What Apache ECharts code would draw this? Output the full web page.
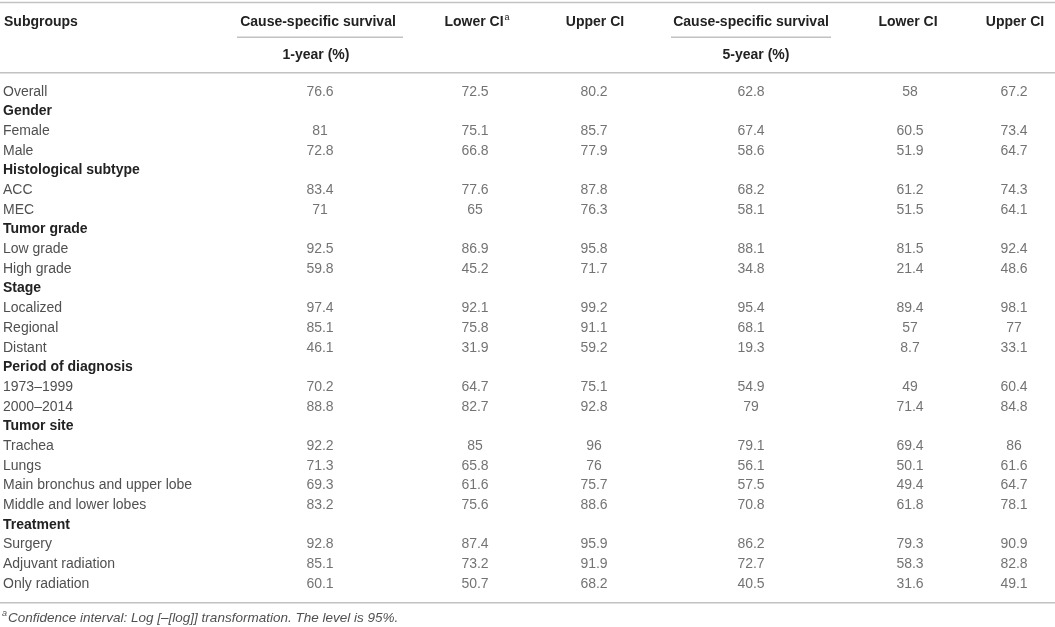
<!DOCTYPE html>
<html>
<head>
<meta charset="utf-8">
<script src="https://cdn.jsdelivr.net/npm/echarts@6/dist/echarts.min.js"></script>
<style>
html,body{margin:0;padding:0;background:#fff;}
#chart{width:1055px;height:627px;}
</style>
</head>
<body>
<div id="chart"></div>
<script>
// ---- Data ----
const subgroups = [
  'Overall',
  'Gender', 'Female', 'Male',
  'Histological subtype', 'ACC', 'MEC',
  'Tumor grade', 'Low grade', 'High grade',
  'Stage', 'Localized', 'Regional', 'Distant',
  'Period of diagnosis', '1973–1999', '2000–2014',
  'Tumor site', 'Trachea', 'Lungs', 'Main bronchus and upper lobe', 'Middle and lower lobes',
  'Treatment', 'Surgery', 'Adjuvant radiation', 'Only radiation'
];
const groupHeaders = ['Gender', 'Histological subtype', 'Tumor grade', 'Stage', 'Period of diagnosis', 'Tumor site', 'Treatment'];

const survival1y = [76.6, null, 81, 72.8, null, 83.4, 71, null, 92.5, 59.8, null, 97.4, 85.1, 46.1, null, 70.2, 88.8, null, 92.2, 71.3, 69.3, 83.2, null, 92.8, 85.1, 60.1];
const lower1y    = [72.5, null, 75.1, 66.8, null, 77.6, 65, null, 86.9, 45.2, null, 92.1, 75.8, 31.9, null, 64.7, 82.7, null, 85, 65.8, 61.6, 75.6, null, 87.4, 73.2, 50.7];
const upper1y    = [80.2, null, 85.7, 77.9, null, 87.8, 76.3, null, 95.8, 71.7, null, 99.2, 91.1, 59.2, null, 75.1, 92.8, null, 96, 76, 75.7, 88.6, null, 95.9, 91.9, 68.2];
const survival5y = [62.8, null, 67.4, 58.6, null, 68.2, 58.1, null, 88.1, 34.8, null, 95.4, 68.1, 19.3, null, 54.9, 79, null, 79.1, 56.1, 57.5, 70.8, null, 86.2, 72.7, 40.5];
const lower5y    = [58, null, 60.5, 51.9, null, 61.2, 51.5, null, 81.5, 21.4, null, 89.4, 57, 8.7, null, 49, 71.4, null, 69.4, 50.1, 49.4, 61.8, null, 79.3, 58.3, 31.6];
const upper5y    = [67.2, null, 73.4, 64.7, null, 74.3, 64.1, null, 92.4, 48.6, null, 98.1, 77, 33.1, null, 60.4, 84.8, null, 86, 61.6, 64.7, 78.1, null, 90.9, 82.8, 49.1];

const columnTitles = ['Cause-specific survival', 'Lower CI', 'Upper CI', 'Cause-specific survival', 'Lower CI', 'Upper CI'];
const periodTitles = ['1-year (%)', '5-year (%)'];
const footnote = 'Confidence interval: Log [–[log]] transformation. The level is 95%.';

// ---- Layout (positions only) ----
const W = 1055;
const colX = [320, 475, 594, 751, 910, 1014];
const headerX = [318, 474, 595, 751, 908, 1015];
const periodX = [316, 756];
const FONT = '"Liberation Sans", Arial, Helvetica, sans-serif';
const TXT = '#505050';
const BOLD = '#222';
const LINE = '#c2c2c2';

const columns = [survival1y, lower1y, upper1y, survival5y, lower5y, upper5y];

const series = columns.map((vals, c) => ({
  type: 'scatter',
  silent: true,
  symbolSize: 0,
  data: vals.map((v, i) => v == null ? null : [colX[c], subgroups[i], v]).filter(d => d),
  label: {
    show: true,
    position: 'inside',
    formatter: p => String(p.value[2]),
    fontFamily: FONT,
    fontSize: 14,
    color: TXT
  }
}));

const graphics = [];
function hline(x1, x2, y) {
  graphics.push({ type: 'line', silent: true, shape: { x1, y1: y, x2, y2: y }, style: { stroke: LINE, lineWidth: 1.5 } });
}
function text(t, x, y, opts) {
  graphics.push({
    type: 'text', silent: true, x, y,
    style: Object.assign({ text: t, fontFamily: FONT, fontSize: 14, fill: BOLD, fontWeight: 'bold', align: 'center', verticalAlign: 'middle' }, opts || {})
  });
}
hline(0, W, 2.5);
hline(237, 403, 37.3);
hline(671, 831, 37.3);
hline(0, W, 72.7);
hline(0, W, 602.7);

text('Subgroups', 4, 22, { align: 'left' });
columnTitles.forEach((t, i) => text(t, headerX[i], 22));
text('a', 504.5, 18, { fontSize: 9, align: 'left', fontWeight: 'normal' });
periodTitles.forEach((t, i) => text(t, periodX[i], 55.5));
text('a', 2, 613, { fontSize: 9, align: 'left', fontWeight: 'normal', fontStyle: 'italic', fill: TXT });
text(footnote, 8, 618, { fontSize: 13.5, align: 'left', fontWeight: 'normal', fontStyle: 'italic', fill: TXT });

const chart = echarts.init(document.getElementById('chart'), null, { renderer: 'canvas' });
chart.setOption({
  animation: false,
  backgroundColor: '#fff',
  grid: { left: 0, right: 0, top: 81.85, bottom: 33.2 },
  xAxis: {
    type: 'value', min: 0, max: W, show: false
  },
  yAxis: {
    type: 'category',
    inverse: true,
    data: subgroups,
    axisLine: { show: false },
    axisTick: { show: false },
    splitLine: { show: false },
    axisLabel: {
      inside: true,
      interval: 0,
      margin: 3,
      align: 'left',
      fontFamily: FONT,
      fontSize: 14,
      color: TXT,
      formatter: v => groupHeaders.includes(v) ? '{b|' + v + '}' : v,
      rich: {
        b: { fontFamily: FONT, fontSize: 14, fontWeight: 'bold', color: BOLD }
      }
    }
  },
  series: series,
  graphic: graphics
});
</script>
</body>
</html>
